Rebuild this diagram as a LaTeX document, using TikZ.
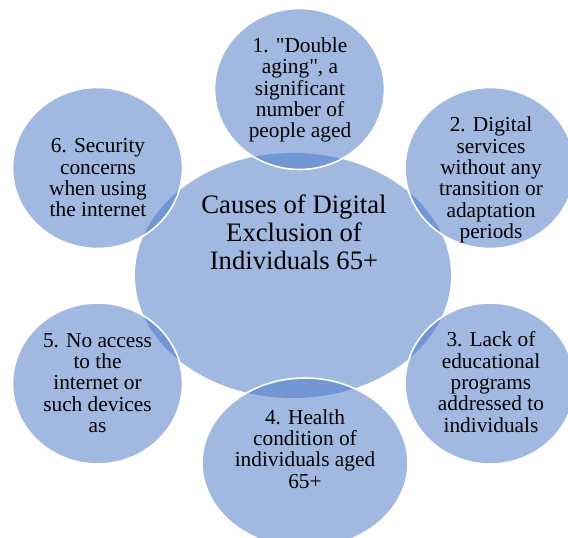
\documentclass[tikz,border=0pt]{standalone}
\usepackage{fontspec}
\setmainfont{Liberation Serif}[Ligatures=TeXOff]
\usetikzlibrary{shapes.geometric}
\definecolor{causeblue}{HTML}{4472C4}

\begin{document}
\begin{tikzpicture}[x=0.75pt, y=-0.75pt,
    hub/.style={ellipse, fill=causeblue, fill opacity=0.5, inner sep=0pt,
        minimum width=237pt, minimum height=183.75pt},
    cause/.style={ellipse, fill=causeblue, fill opacity=0.5, draw=white,
        line width=1.2pt, inner sep=0pt, minimum width=127.5pt, minimum height=120.75pt},
    causetext/.style={align=center, font=\fontsize{16}{16}\selectfont},
    hubtext/.style={align=center, font=\fontsize{20}{21}\selectfont}]
    \useasboundingbox (0,0) rectangle (568,538);
    % Shapes: the hub first, the six causes on top of it
    \node[hub] (hub) at (293, 275.5){};
    \node[cause] (c1) at (299.5, 89){};
    \node[cause] (c2) at (490, 168){};
    \node[cause] (c3) at (490, 383.5){};
    \node[cause, minimum width=154.5pt, minimum height=127.5pt] (c4) at (305, 463){};
    \node[cause] (c5) at (97.5, 383.5){};
    \node[cause] (c6) at (97.5, 168){};
    % Texts:
    \node[hubtext] (hubtitle) at (294, 232){Causes of Digital\\Exclusion of\\Individuals 65+};
    \node[causetext] (t1) at (300, 90){1. "Double\\aging", a\\significant\\number of\\people aged};
    \node[causetext] (t2) at (491, 180){2. Digital\\services\\without any\\transition or\\adaptation\\periods};
    \node[causetext] (t3) at (491, 382){3. Lack of\\educational\\programs\\addressed to\\individuals};
    \node[causetext] (t4) at (305, 449){4. Health\\condition of\\individuals aged\\65+};
    \node[causetext] (t5) at (97.5, 383){5. No access\\to the\\internet or\\such devices\\as};
    \node[causetext] (t6) at (98, 178){6. Security\\concerns\\when using\\the internet};
\end{tikzpicture}
\end{document}
